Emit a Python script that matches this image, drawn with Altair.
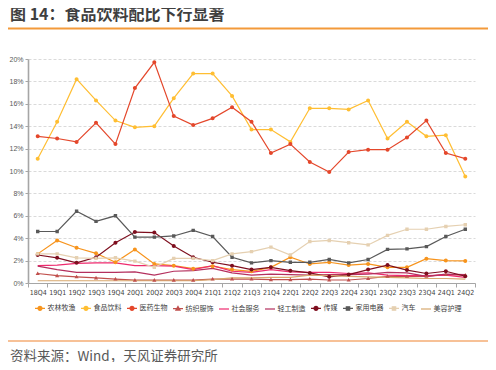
import altair as alt
import pandas as pd

# ---------------- data ----------------
quarters = ["18Q4", "19Q1", "19Q2", "19Q3", "19Q4", "20Q1", "20Q2", "20Q3", "20Q4",
            "21Q1", "21Q2", "21Q3", "21Q4", "22Q1", "22Q2", "22Q3", "22Q4",
            "23Q1", "23Q2", "23Q3", "23Q4", "24Q1", "24Q2"]

series_names = ["农林牧渔", "食品饮料", "医药生物", "纺织服饰", "社会服务",
                "轻工制造", "传媒", "家用电器", "汽车", "美容护理"]

v_nonglin = [2.6, 3.8, 3.15, 2.65, 1.85, 3.0, 1.7, 1.55, 1.28, 1.5, 1.2, 1.04,
             1.4, 2.3, 1.7, 1.85, 1.6, 1.7, 1.4, 1.4, 2.17, 2.0, 1.97]
v_shipin = [11.1, 14.4, 18.2, 16.3, 14.5, 13.9, 14.0, 16.5, 18.7, 18.7, 16.7, 13.7,
            13.7, 12.6, 15.6, 15.6, 15.5, 16.3, 12.9, 14.4, 13.1, 13.2, 9.5]
v_yiyao = [13.1, 12.9, 12.6, 14.3, 12.4, 17.4, 19.7, 14.9, 14.1, 14.7, 15.7, 14.4,
           11.6, 12.4, 10.8, 9.9, 11.7, 11.9, 11.9, 13.0, 14.5, 11.6, 11.1]
v_fangzhi = [0.85, 0.65, 0.55, 0.45, 0.35, 0.25, 0.25, 0.25, 0.25, 0.35, 0.35, 0.35,
             0.3, 0.3, 0.35, 0.27, 0.27, 0.4, 0.6, 0.6, 0.6, 0.75, 0.7]
v_shehui = [1.55, 1.6, 1.75, 1.8, 1.8, 1.55, 1.55, 1.5, 1.2, 1.55, 1.05, 0.95,
            1.2, 1.0, 0.95, 0.95, 0.85, 0.9, 0.7, 0.65, 0.65, 0.7, 0.5]
v_qinggong = [1.5, 1.2, 0.95, 0.95, 0.95, 1.0, 0.7, 1.05, 1.1, 1.3, 0.9, 0.7,
              0.8, 0.75, 0.7, 0.75, 0.75, 0.8, 0.95, 0.9, 0.6, 0.8, 0.75]
v_chuanmei = [2.5, 2.25, 1.8, 2.3, 3.6, 4.55, 4.5, 3.3, 2.3, 1.85, 1.55, 1.2,
              1.4, 1.1, 0.9, 0.55, 0.75, 1.2, 1.6, 1.15, 0.85, 1.05, 0.6]
v_jiadian = [4.6, 4.6, 6.4, 5.5, 6.0, 4.1, 4.1, 4.2, 4.7, 4.15, 2.3, 1.8,
             2.0, 1.85, 1.85, 2.1, 1.8, 2.1, 3.0, 3.05, 3.25, 4.15, 4.8]
v_qiche = [2.6, 2.6, 2.25, 2.2, 2.25, 1.95, 1.4, 2.2, 2.2, 2.0, 2.6, 2.8,
           3.2, 2.5, 3.7, 3.8, 3.6, 3.4, 4.25, 4.8, 4.8, 5.05, 5.2]
v_meirong = [0.2, 0.2, 0.2, 0.2, 0.2, 0.2, 0.2, 0.2, 0.2, 0.3, 0.45, 0.45,
             0.5, 0.5, 0.7, 0.65, 0.6, 0.55, 0.5, 0.45, 0.4, 0.4, 0.35]

y_ticks = [0, 2, 4, 6, 8, 10, 12, 14, 16, 18, 20]

title_text = "图 14：食品饮料配比下行显著"
source_text = "资料来源：Wind，天风证券研究所"

# ---------------- styles ----------------
series_colors = ["#F7941D", "#FFBE32", "#E4472B", "#C0504D", "#EE2A6E",
                 "#B4305E", "#7E0E1E", "#595959", "#E5D0B1", "#D7A86E"]

CIRC = "M-1,0H1M-0.4,0A0.4,0.4,0,1,1,0.4,0A0.4,0.4,0,1,1,-0.4,0Z"
TRI = "M-1,0H1M0,-0.42L0.42,0.3L-0.42,0.3Z"
SQ = "M-1,0H1M-0.34,-0.34H0.34V0.34H-0.34Z"
LINE = "M-1,0H1"
series_shapes = [CIRC, CIRC, CIRC, TRI, LINE, LINE, CIRC, SQ, SQ, LINE]

all_values = [v_nonglin, v_shipin, v_yiyao, v_fangzhi, v_shehui,
              v_qinggong, v_chuanmei, v_jiadian, v_qiche, v_meirong]

rows = []
for name, vals in zip(series_names, all_values):
    for q, v in zip(quarters, vals):
        rows.append({"季度": q, "行业": name, "占比": v})
df = pd.DataFrame(rows)

CJK = "Noto Sans CJK SC"
NUM = "Liberation Sans Narrow, Arial Narrow, DejaVu Sans Condensed, Liberation Sans"

color_scale = alt.Scale(domain=series_names, range=series_colors)

x_enc = alt.X("季度:N", sort=quarters,
              scale=alt.Scale(type="band", paddingInner=0, paddingOuter=0),
              axis=alt.Axis(title=None, labelAngle=0, tickBand="extent", tickSize=4,
                            tickColor="#A6A6A6", domainColor="#A6A6A6", domainWidth=1,
                            labelFontSize=7, labelFont=NUM, labelColor="#404040",
                            labelPadding=1.5, grid=False))
y_enc = alt.Y("占比:Q", scale=alt.Scale(domain=[0, 20], nice=False),
              axis=alt.Axis(title=None, values=y_ticks, labelExpr="datum.value + '%'",
                            grid=True, gridDash=[3, 2], gridColor="#D0D0D0", gridWidth=0.8,
                            domainColor="#A6A6A6", domainWidth=1.6, tickColor="#A6A6A6",
                            tickSize=3, labelFontSize=7, labelFont="Liberation Sans",
                            labelColor="#595959", labelPadding=2))

leg = alt.Legend(title=None, orient="none", legendX=6, legendY=243,
                 direction="horizontal", columns=10, labelFont=CJK, labelFontSize=7,
                 labelColor="#404040", symbolSize=100, labelOffset=1.5, columnPadding=2,
                 symbolStrokeWidth=1.2,
                 symbolStrokeColor=alt.ExprRef("scale('color', datum.value)"))

lines = alt.Chart(df).mark_line(strokeWidth=1.2).encode(
    x=x_enc, y=y_enc,
    color=alt.Color("行业:N", scale=color_scale, legend=None),
)

points = alt.Chart(df).mark_point(filled=True, size=100, strokeWidth=0, opacity=1).encode(
    x=x_enc, y=y_enc,
    color=alt.Color("行业:N", scale=color_scale, legend=leg),
    shape=alt.Shape("行业:N", scale=alt.Scale(domain=series_names, range=series_shapes),
                    legend=leg),
)

one = pd.DataFrame({"t": [title_text], "s": [source_text]})

title_mark = alt.Chart(one).mark_text(align="left", baseline="alphabetic", font=CJK,
                                      fontSize=16, fontWeight="bold",
                                      color="#3F3F3F").encode(
    text="t:N", x=alt.value(-18), y=alt.value(-39))

source_mark = alt.Chart(one).mark_text(align="left", baseline="alphabetic", font=CJK,
                                       fontSize=13.5, color="#595959").encode(
    text="s:N", x=alt.value(-18), y=alt.value(302))

top_rule = alt.Chart(one).mark_rule(color="#F39A3A", strokeWidth=2).encode(
    x=alt.value(-20), x2=alt.value(460), y=alt.value(-30.5))

bottom_rule = alt.Chart(one).mark_rule(color="#F4AC74", strokeWidth=1.5).encode(
    x=alt.value(-20), x2=alt.value(460), y=alt.value(282))

chart = alt.layer(lines, points, title_mark, source_mark, top_rule, bottom_rule).resolve_legend(
    color="independent", shape="independent"
).properties(
    width=447, height=224,
    autosize=alt.AutoSizeParams(type="none"),
    padding={"left": 20, "top": 51, "right": 13, "bottom": 79},
).configure_view(stroke=None)

chart.save("out.html", embed_options={"renderer": "svg", "actions": False})
